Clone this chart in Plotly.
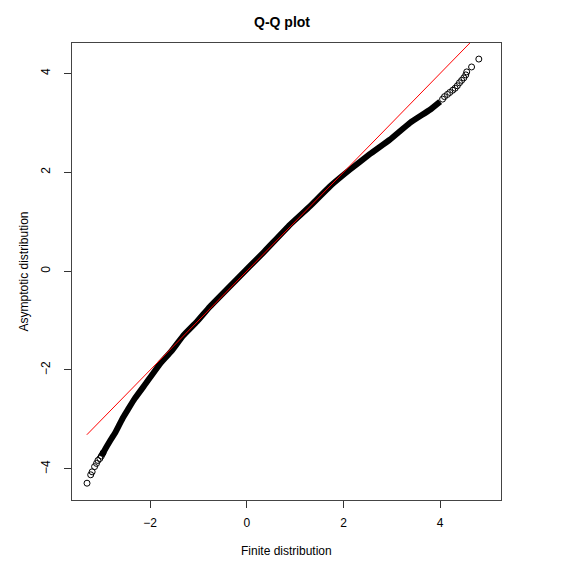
import plotly.graph_objects as go

# Dense body of the Q-Q curve (finite vs asymptotic quantiles)
body_x = [-3.01, -2.94, -2.84, -2.73, -2.64, -2.56, -2.46, -2.32, -2.08, -1.80, -1.56, -1.32,
          -1.03, -0.766, -0.213, 0.337, 0.89, 1.304, 1.718, 2.13, 2.55, 2.96, 3.375, 3.79, 4.0]
body_y = [-3.74, -3.62, -3.45, -3.28, -3.11, -2.96, -2.80, -2.58, -2.26, -1.88, -1.62, -1.31,
          -1.02, -0.72, -0.17, 0.37, 0.937, 1.31, 1.713, 2.05, 2.37, 2.66, 3.00, 3.265, 3.43]

# Sparse tail points (individual circles)
tail_x = [-3.306, -3.23, -3.20, -3.15, -3.11, -3.08, -3.04, -3.01, -2.975,
          4.05, 4.09, 4.15, 4.20, 4.26, 4.31, 4.355, 4.40, 4.445, 4.49, 4.53, 4.55, 4.65, 4.80]
tail_y = [-4.29, -4.12, -4.06, -3.955, -3.89, -3.83, -3.79, -3.74, -3.68,
          3.48, 3.53, 3.575, 3.615, 3.66, 3.70, 3.75, 3.81, 3.86, 3.91, 3.97, 4.03, 4.13, 4.29]

# Reference line y = x
ref_x = [-3.31, 4.81]
ref_y = [-3.31, 4.81]

x_ticks = [-2, 0, 2, 4]
y_ticks = [-4, -2, 0, 2, 4]

FONT = "Liberation Sans, Arial, Helvetica, sans-serif"

fig = go.Figure()
fig.add_trace(go.Scatter(x=body_x, y=body_y, mode="lines",
                         line=dict(color="black", width=6, shape="spline", smoothing=0.3),
                         hoverinfo="skip", showlegend=False))
fig.add_trace(go.Scatter(x=tail_x, y=tail_y, mode="markers",
                         marker=dict(symbol="circle-open", size=6, color="black",
                                     line=dict(color="black", width=1)),
                         showlegend=False))
fig.add_trace(go.Scatter(x=ref_x, y=ref_y, mode="lines",
                         line=dict(color="red", width=1), showlegend=False))

axis_common = dict(showgrid=False, zeroline=False, showline=True, mirror=True,
                   linecolor="#444", linewidth=1, ticks="outside", ticklen=7,
                   tickcolor="#333", tickwidth=1,
                   tickfont=dict(family=FONT, size=12, color="black"))

fig.update_xaxes(range=[-3.617, 5.259], tickvals=x_ticks, ticklabelstandoff=5, **axis_common)
fig.update_yaxes(range=[-4.63, 4.615], tickvals=y_ticks, tickangle=-90,
                 ticklabelstandoff=9, **axis_common)

# page body has an 8px default margin, so the figure is sized/offset to compensate
fig.update_layout(
    width=565, height=564,
    margin=dict(l=64, r=72, t=35, b=72),
    paper_bgcolor="white", plot_bgcolor="white",
    annotations=[
        dict(text="<b>Q-Q plot</b>", xref="paper", yref="paper", x=0.49, y=1.0,
             yshift=21, showarrow=False, xanchor="center", yanchor="middle",
             font=dict(family=FONT, size=14, color="black")),
        dict(text="Finite distribution", xref="paper", yref="paper", x=0.5, y=0,
             yshift=-51, showarrow=False, xanchor="center", yanchor="middle",
             font=dict(family=FONT, size=12, color="black")),
        dict(text="Asymptotic distribution", xref="paper", yref="paper", x=0, y=0.5,
             xshift=-49, showarrow=False, xanchor="center", yanchor="middle",
             textangle=-90, font=dict(family=FONT, size=12, color="black")),
    ],
)

fig.write_html("out.html")
